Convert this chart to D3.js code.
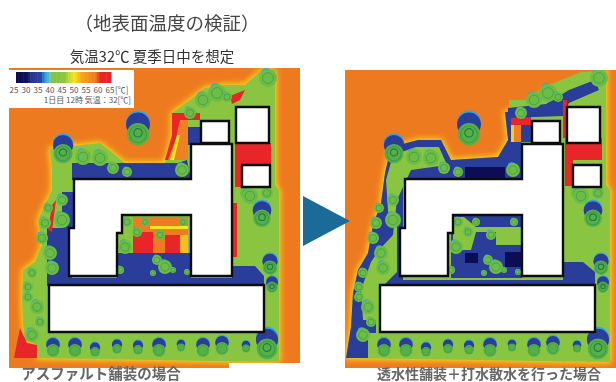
<!DOCTYPE html>
<html>
<head>
<meta charset="utf-8">
<script src="https://cdn.jsdelivr.net/npm/d3@7"></script>
<style>
html, body { margin: 0; padding: 0; background: #fff; overflow: hidden; }
text { font-family: "Noto Sans CJK JP", sans-serif; }
</style>
</head>
<body>
<svg id="chart" width="616" height="382"></svg>
<script>
// temperature legend
var legendTicks = [25, 30, 35, 40, 45, 50, 55, 60, 65];
var legendSteps = d3.range(25, 66, 1);
var tempStops = [25, 29, 31, 35, 37, 39, 40, 45, 47, 49, 52, 58, 60, 65];
var tempColors = ["#0b0b4d", "#10125c", "#28338f", "#2a45a5", "#35a5dc", "#6fc6a0", "#84c441", "#8cc63f", "#c6d92f", "#f6e71f", "#f6a623", "#ee7a20", "#e8262a", "#e8262a"];

// all shapes are [temperature, outline], in site coordinates (metres-ish)
var airTemp = 58;
var siteLeft = [[262,70],[275,70],[275,185],[279,190],[279,362],[37,358],[37,345],[24,340],[22,300],[23,270],[35,262],[42,245],[38,220],[45,205],[52,190],[52,170],[50,150],[60,140],[75,146],[100,143],[115,155],[125,163],[165,163],[172,135],[172,113],[190,100],[205,88],[225,85],[245,85]];
var patchesLeft = [
    [33, [[72,163],[178,163],[187,160],[191,180],[72,180]]],
    [33, [[188,127],[201,127],[201,145],[188,145]]],
    [33, [[62,192],[76,192],[76,230],[62,230]]],
    [33, [[47,228],[72,228],[72,278],[117,278],[117,253],[191,253],[191,278],[232,278],[232,266],[255,266],[264,276],[264,286],[47,286]]],
    [57, [[174,118],[188,118],[188,160],[168,160],[174,135]]],
    [49, [[177,135],[180,135],[174,160],[170,160]]],
    [62, [[172,113],[200,113],[200,120],[180,120],[176,138],[168,160],[165,160],[172,135]]],
    [62, [[235,143],[271,143],[271,165],[242,165],[242,187],[235,187]]],
    [62, [[233,203],[237,203],[237,257],[233,257]]],
    [62, [[230,96],[245,90],[240,100],[232,104]]],
    [62, [[14,358],[37,358],[37,345],[27,343],[20,328]]],
    [62, [[52,205],[56,200],[52,232],[48,230]]],
    [58, [[133,217],[188,217],[188,253],[133,253]]],
    [62, [[133,232],[153,232],[153,253],[133,253]]],
    [62, [[165,235],[180,235],[180,253],[165,253]]],
    [51, [[180,235],[188,235],[188,253],[180,253]]],
    [49, [[150,226],[188,226],[188,229],[150,229]]],
    [43, [[122,215],[133,215],[133,253],[122,253]]]
];
var siteRight = [[262,76],[275,70],[275,185],[279,190],[279,362],[15,358],[20,327],[22,293],[27,270],[37,253],[42,225],[50,203],[54,173],[60,147],[87,140],[110,140],[120,160],[167,157],[177,140],[174,112],[200,105],[215,92],[240,85]];
var patchesRight = [
    [33, [[15,358],[20,327],[22,293],[27,270],[37,253],[42,225],[50,203],[54,173],[60,147],[87,140],[110,140],[120,160],[167,157],[177,140],[174,112],[190,112],[190,180],[72,180],[72,280],[264,280],[264,286],[45,286],[45,333],[37,333],[37,358]]],
    [43, [[62,155],[85,147],[108,147],[116,165],[80,170],[66,200],[62,235],[48,250],[40,262],[30,290],[32,320],[45,320],[48,290],[66,272],[66,225],[58,225],[55,180]]],
    [27, [[134,167],[174,167],[174,178],[134,178]]],
    [57, [[180,117],[200,117],[200,142],[180,142]]],
    [62, [[180,117],[200,117],[200,125],[180,125]]],
    [50, [[180,125],[183,125],[183,142],[180,142]]],
    [33, [[190,125],[201,125],[201,142],[190,142]]],
    [43, [[178,100],[195,100],[218,85],[250,72],[264,72],[264,80],[238,90],[215,104],[178,108]]],
    [33, [[177,108],[215,104],[238,90],[264,80],[268,90],[238,103],[232,116],[177,118]]],
    [62, [[234,138],[271,138],[271,160],[242,160],[242,186],[234,186]]],
    [62, [[232,100],[236,100],[236,138],[232,138]]],
    [33, [[232,262],[252,262],[264,272],[264,286],[232,286]]],
    [33, [[120,213],[191,213],[191,278],[120,278]]],
    [43, [[122,217],[133,217],[145,227],[190,227],[190,245],[165,245],[165,232],[145,232],[140,250],[122,250]]],
    [27, [[134,253],[147,253],[147,263],[134,263]]],
    [27, [[174,252],[190,252],[190,267],[174,267]]]
];

// building footprints
var mainBuilding = [[74,179],[191,179],[191,144],[232,144],[232,276],[191,276],[191,215],[122,215],[122,233],[117,233],[117,276],[69,276],[69,228],[74,228]];
var annexes = [
    [[201,121],[229,121],[229,143],[201,143]],
    [[236,107],[269,107],[269,143],[236,143]],
    [[242,165],[270,165],[270,187],[242,187]],
    [[49,285],[264,285],[264,332],[49,332]]
];

// trees: [x, y, radius]
var treeRow = [[53,348,8],[75,348,8],[95,350,6],[117,347,6],[138,348,6],[159,348,8],[181,346,5],[203,348,8],[222,346,8],[246,347,5]];
var treesBig = [[63,150,12],[138,130,14],[267,345,13],[262,215,11],[270,265,9],[272,285,7]];
var treesSmall = [[83,157,8],[100,158,8],[113,168,6],[127,172,5],[182,170,7],[190,113,6],[203,100,8],[217,93,9],[227,97,5],[268,78,9],[247,193,7],[267,193,6],[250,196,8],
    [62,200,6],[62,220,8],[48,208,5],[45,223,6],[42,238,6],[50,253,7],[52,268,7],[32,273,5],[28,287,5],[28,297,5],[37,307,7],[40,322,5],[32,335,7],
    [127,222,5],[137,232,5],[125,247,7],[145,222,4],[160,235,5],[183,222,4],[157,260,5],[165,267,7],[173,270,3],[153,273,3],[187,272,3],[120,270,4]];

// text
var titleText = "（地表面温度の検証）";
var subtitleText = "気温32℃  夏季日中を想定";
var legendNote = "1日目 12時  気温：32[℃]";
var captionLeft = "アスファルト舗装の場合";
var captionRight = "透水性舗装＋打水散水を行った場合";

var svg = d3.select("#chart");
var temp = d3.scaleLinear().domain(tempStops).range(tempColors);
var defs = svg.append("defs");

defs.append("filter").attr("id", "soft").append("feGaussianBlur").attr("stdDeviation", 0.55);
defs.append("filter").attr("id", "halo").attr("x", "-20%").attr("y", "-20%").attr("width", "140%").attr("height", "140%")
    .append("feGaussianBlur").attr("stdDeviation", 3);
defs.append("filter").attr("id", "textSoft").append("feGaussianBlur").attr("stdDeviation", 0.3);

// kind: "row" = blue cap on top, "big" = dark rings, otherwise mostly plain canopy
function drawTree(g, x, y, t, kind) {
    var cx = x(t[0]), cy = y(t[1]), r = x(t[0] + t[2]) - cx;
    var capped = kind != "plain";
    if (capped) {
        g.append("circle").attr("cx", cx).attr("cy", cy - r * 0.55).attr("r", r * 0.85).attr("fill", temp(37));
        g.append("circle").attr("cx", cx).attr("cy", cy - r * 0.4).attr("r", r * 0.85).attr("fill", temp(33));
    } else {
        g.append("circle").attr("cx", cx - r * 0.2).attr("cy", cy - r * 0.55).attr("r", r * 0.55).attr("fill", temp(37));
    }
    g.append("circle").attr("cx", cx).attr("cy", cy + r * (capped ? 0.3 : 0)).attr("r", r * (capped ? 0.8 : 1))
        .attr("fill", kind == "plain" ? "#6cbc45" : "#57b044");
    g.append("circle").attr("cx", cx).attr("cy", cy + r * (capped ? 0.3 : 0)).attr("r", r * 0.6).attr("fill", "none")
        .attr("stroke", "#3d9e4c").attr("stroke-width", kind == "big" ? 1.3 : 0.8);
    if (kind == "big") {
        g.append("circle").attr("cx", cx).attr("cy", cy + r * 0.2).attr("r", r * 0.3).attr("fill", "none").attr("stroke", "#1d7a4c").attr("stroke-width", 1.2);
    }
}

function drawPanel(id, clip, xRange, site, patches) {
    var x = d3.scaleLinear().domain([0, 300]).range(xRange);
    var y = d3.scaleLinear().domain([0, 382]).range([0, 382]);
    var path = d3.line().x(function (d) { return x(d[0]); }).y(function (d) { return y(d[1]); }).curve(d3.curveLinearClosed);

    defs.append("clipPath").attr("id", id).append("rect")
        .attr("x", clip.x).attr("y", clip.y).attr("width", clip.w).attr("height", clip.h);
    var root = svg.append("g").attr("clip-path", "url(#" + id + ")");
    root.append("rect").attr("x", clip.x).attr("y", clip.y).attr("width", clip.w).attr("height", clip.h).attr("fill", temp(airTemp));

    // warm fringe round the planted area
    root.append("path").attr("d", path(site)).attr("fill", temp(49)).attr("stroke", temp(49)).attr("stroke-width", 2).attr("filter", "url(#halo)");

    var g = root.append("g").attr("filter", "url(#soft)");
    g.append("path").attr("d", path(site)).attr("fill", temp(43));
    patches.forEach(function (p) {
        g.append("path").attr("d", path(p[1])).attr("fill", temp(p[0]));
    });
    treeRow.forEach(function (t) { drawTree(g, x, y, t, "row"); });
    treesSmall.forEach(function (t) { drawTree(g, x, y, t, "plain"); });
    treesBig.forEach(function (t) { drawTree(g, x, y, t, "big"); });

    annexes.concat([mainBuilding]).forEach(function (b) {
        g.append("path").attr("d", path(b)).attr("fill", "#fff").attr("stroke", "#111").attr("stroke-width", 2.4);
    });
}

drawPanel("clipL", {x: 9, y: 68, w: 291, h: 300}, [0, 300], siteLeft, patchesLeft);
drawPanel("clipR", {x: 345, y: 70, w: 271, h: 298}, [331, 631], siteRight, patchesRight);

// white cut-out under the left map and legend box
svg.append("rect").attr("x", 229).attr("y", 363).attr("width", 75).attr("height", 19).attr("fill", "#fff");
svg.append("rect").attr("x", 9).attr("y", 70).attr("width", 125).attr("height", 38).attr("fill", "#fff");

var legendX = d3.scaleLinear().domain([25, 65]).range([16, 111]);
svg.append("g").selectAll("rect").data(legendSteps.slice(0, -1)).join("rect")
    .attr("x", function (d) { return legendX(d); })
    .attr("y", 72)
    .attr("width", function (d) { return legendX(d + 1) - legendX(d) + 0.5; })
    .attr("height", 11)
    .attr("fill", function (d) { return temp(d); });
var tickX = d3.scaleLinear().domain([25, 65]).range([14, 110]);
svg.append("g").selectAll("text").data(legendTicks).join("text")
    .attr("x", function (d) { return tickX(d); })
    .attr("y", 93)
    .attr("text-anchor", "middle")
    .attr("font-size", 8)
    .attr("fill", "#555")
    .text(function (d) { return d; });
svg.append("text").attr("x", 115).attr("y", 93).attr("font-size", 8).attr("fill", "#555").text("[℃]");
svg.append("text").attr("x", 131).attr("y", 103).attr("text-anchor", "end").attr("font-size", 8).attr("fill", "#555").text(legendNote);

// arrow between the maps
var arrowX = d3.scaleLinear().domain([0, 1]).range([303, 350]);
var arrowY = d3.scaleLinear().domain([0, 1]).range([196, 246]);
svg.append("path")
    .attr("d", d3.line().x(function (d) { return arrowX(d[0]); }).y(function (d) { return arrowY(d[1]); }).curve(d3.curveLinearClosed)([[0, 0], [1, 0.5], [0, 1]]))
    .attr("fill", "#1b6b99");

function addText(x, y, size, weight, color, anchor, str) {
    return svg.append("text").attr("x", x).attr("y", y).attr("font-size", size).attr("font-weight", weight)
        .attr("fill", color).attr("text-anchor", anchor).attr("filter", "url(#textSoft)").text(str);
}
addText(167, 30, 18.5, 400, "#444", "middle", titleText);
addText(152, 62, 14.5, 400, "#333", "middle", subtitleText);
addText(101, 379, 14.5, 700, "#666", "middle", captionLeft);
addText(489, 379, 14, 700, "#666", "middle", captionRight);
</script>
</body>
</html>
